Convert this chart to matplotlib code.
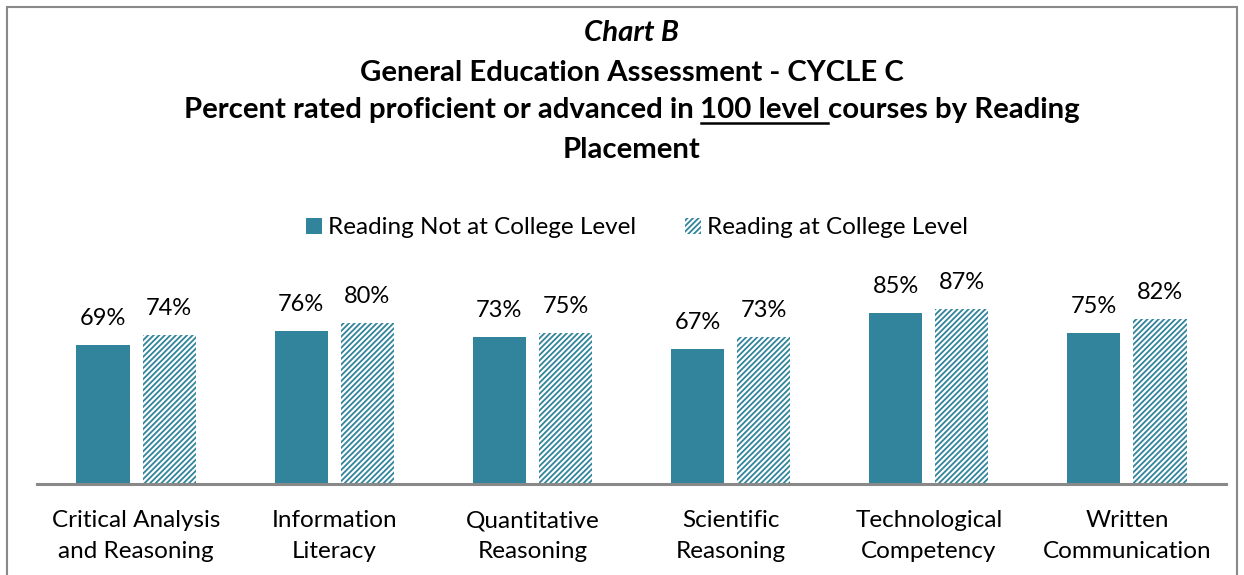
import matplotlib
matplotlib.use("Agg")
import matplotlib.pyplot as plt
from matplotlib.patches import Rectangle, Patch
from matplotlib.lines import Line2D
import numpy as np

categories = ["Critical Analysis\nand Reasoning", "Information\nLiteracy", "Quantitative\nReasoning",
              "Scientific\nReasoning", "Technological\nCompetency", "Written\nCommunication"]
not_college = [69, 76, 73, 67, 85, 75]
at_college = [74, 80, 75, 73, 87, 82]
series_names = ["Reading Not at College Level", "Reading at College Level"]

TEAL = "#31849B"
FONT = "Lato"
plt.rcParams["font.family"] = [FONT, "DejaVu Sans"]
plt.rcParams["hatch.linewidth"] = 1.3

W, H = 1244, 575
fig = plt.figure(figsize=(W / 100, H / 100), dpi=100)

# axes placed in pixel terms: baseline at y=484, x 37..1226
left, right, base = 37, 1226, 484
px_per_pct = 2.015
top_val = 100
ax = fig.add_axes([left / W, 1 - base / H, (right - left) / W, top_val * px_per_pct / H])

x = np.arange(len(categories))
bw = 0.268
off = 0.167
b1 = ax.bar(x - off, not_college, bw, color=TEAL, linewidth=0)
b2 = ax.bar(x + off, at_college, bw, color="white", edgecolor=TEAL, hatch="//////", linewidth=0)

for rects, vals in ((b1, not_college), (b2, at_college)):
    for r, v in zip(rects, vals):
        ax.text(r.get_x() + r.get_width() / 2, v + 13, f"{v}%", ha="center", va="center",
                fontsize=17, color="black")

ax.set_xlim(-0.5, len(categories) - 0.5)
ax.set_ylim(0, top_val)
ax.set_yticks([])
ax.set_xticks(x)
ax.set_xticklabels(categories, fontsize=17.5, linespacing=1.58)
ax.tick_params(axis="x", length=0, pad=19)
for s in ("top", "right", "left"):
    ax.spines[s].set_visible(False)
ax.spines["bottom"].set_color("#898989")
ax.spines["bottom"].set_linewidth(2.2)
ax.patch.set_alpha(0)

# legend
handles = [Patch(facecolor=TEAL, linewidth=0),
           Patch(facecolor="white", edgecolor=TEAL, hatch="//////", linewidth=0)]
fig.legend(handles, series_names, loc="center", bbox_to_anchor=(637 / W, 1 - 228 / H),
           ncol=2, frameon=False, fontsize=17.5, handlelength=0.65, handleheight=0.65,
           handletextpad=0.25, columnspacing=2.0)

# titles
cx = (left + right) / 2 / W
TS = 21.2
fig.text(cx, 1 - 33 / H, "Chart B", ha="center", va="center", fontsize=TS, fontweight="bold",
         fontstyle="italic")
fig.text(cx, 1 - 73 / H, "General Education Assessment - CYCLE C", ha="center", va="center",
         fontsize=TS, fontweight="bold")
fig.text(cx, 1 - 150 / H, "Placement", ha="center", va="center", fontsize=TS, fontweight="bold")

# line 3 with underlined part
parts = ["Percent rated proficient or advanced in ", "100 level ", "courses by Reading"]
renderer = fig.canvas.get_renderer()
texts = [fig.text(0, 1 - 110 / H, p, ha="left", va="center", fontsize=TS, fontweight="bold")
         for p in parts]
widths = [t.get_window_extent(renderer).width / W for t in texts]
start = cx - sum(widths) / 2
xs = start
for t, w in zip(texts, widths):
    t.set_x(xs)
    xs += w
u0 = start + widths[0]
fig.add_artist(Line2D([u0, u0 + widths[1]], [1 - 123 / H] * 2, color="black", linewidth=1.8))

# outer border
fig.add_artist(Rectangle((7.5 / W, -0.1), (1237 - 7.5) / W, 1.1 - 7.5 / H, fill=False,
                         edgecolor="#898989", linewidth=1.5, transform=fig.transFigure,
                         clip_on=False))

fig.savefig("out.png", dpi=100)
